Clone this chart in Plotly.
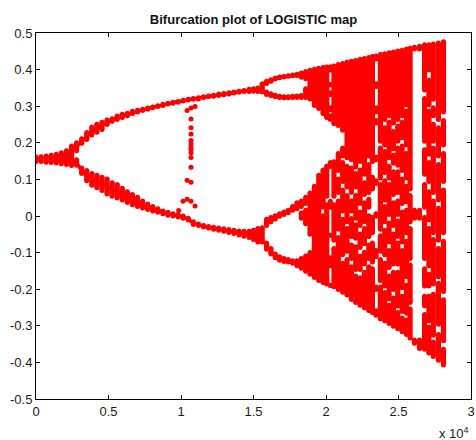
import plotly.graph_objects as go

TITLE = "Bifurcation plot of LOGISTIC map"
X_TICKS = [0, 5000, 10000, 15000, 20000, 25000, 30000]
X_LABELS = ["0", "0.5", "1", "1.5", "2", "2.5", "3"]
Y_TICKS = [0.5, 0.4, 0.3, 0.2, 0.1, 0, -0.1, -0.2, -0.3, -0.4, -0.5]
Y_LABELS = ["0.5", "0.4", "0.3", "0.2", "0.1", "0", "-0.1", "-0.2", "-0.3", "-0.4", "-0.5"]

# Occupied y-ranges of the attractor, one row per parameter value (x in units of 10^4)
col_x = [
 0.00,0.035,0.07,0.105,0.14,0.175,0.21,0.245,0.28,0.315,0.35,0.385,0.42,0.455,0.49,0.525,0.56,0.595,0.63,0.665,
 0.70,0.735,0.77,0.805,0.84,0.875,0.91,0.945,0.98,1.015,1.05,1.085,1.12,1.155,1.19,1.225,1.26,1.295,1.33,1.365,
 1.40,1.435,1.47,1.50,1.53,1.56,1.59,1.62,1.65,1.68,1.71,1.74,1.77,1.80,1.83,1.86,1.89,1.92,1.95,1.98,
 2.005,2.03,2.055,2.085,2.115,2.145,2.175,2.205,2.235,2.265,2.295,2.32,2.345,2.375,2.405,2.435,2.465,2.495,2.525,2.555,
 2.58,2.61,2.645,2.68,2.71,2.74,2.775,2.81]
col_spans = [
 [(.165,.145)],[(.166,.145)],[(.168,.143)],[(.170,.142)],[(.173,.141)],[(.177,.139)],[(.182,.137)],[(.195,.134)],
 [(.204,.174),(.158,.135)],[(.215,.195),(.135,.112)],[(.232,.205),(.128,.092)],[(.247,.217),(.12,.08)],
 [(.255,.225),(.115,.073)],[(.26,.232),(.11,.066)],[(.266,.246),(.105,.056)],[(.27,.255),(.095,.05)],
 [(.277,.26),(.09,.045)],[(.282,.265),(.08,.04)],[(.285,.27),(.07,.033)],[(.29,.276),(.063,.027)],
 [(.293,.28),(.055,.022)],[(.296,.284),(.045,.018)],[(.299,.288),(.037,.014)],[(.302,.292),(.03,.01)],
 [(.305,.295),(.024,.006)],[(.309,.298),(.018,.002)],[(.312,.302),(.014,-.002)],[(.315,.304),(.010,-.004)],
 [(.317,.307),(.008,-.007)],[(.32,.31),(.004,-.010)],[(.323,.313),(-.002,-.015)],[(.325,.315),(-.012,-.027)],
 [(.327,.316),(-.018,-.03)],[(.330,.32),(-.022,-.034)],[(.332,.322),(-.025,-.037)],[(.334,.323),(-.027,-.04)],
 [(.337,.325),(-.029,-.043)],[(.339,.327),(-.031,-.046)],[(.341,.329),(-.033,-.049)],[(.343,.332),(-.035,-.052)],
 [(.345,.334),(-.037,-.056)],[(.347,.336),(-.038,-.059)],[(.350,.336),(-.038,-.063)],[(.352,.337),(-.035,-.068)],
 [(.354,.336),(-.03,-.075)],[(.365,.335),(-.028,-.075)],
 [(.372,.358),(.343,.328),(-.005,-.03),(-.07,-.095)],
 [(.376,.364),(.338,.325),(.0,-.02),(-.085,-.108)],
 [(.381,.370),(.334,.322),(.005,-.012),(-.10,-.118)],
 [(.384,.374),(.331,.320),(.010,-.005),(-.107,-.125)],
 [(.385,.376),(.330,.319),(.015,.0),(-.112,-.128)],
 [(.387,.378),(.330,.319),(.020,.005),(-.115,-.13)],
 [(.389,.379),(.331,.320),(.03,.012),(-.118,-.133)],
 [(.391,.380),(.332,.320),(.04,.016),(-.118,-.14)],
 [(.395,.375),(.333,.320),(.045,.022),(.012,-.01),(-.112,-.147)],
 [(.399,.371),(.352,.320),(.055,.03),(.02,-.025),(-.105,-.155)],
 [(.402,.316),(.067,-.054),(-.096,-.163)],
 [(.405,.298),(.085,-.172)],
 [(.408,.29),(.115,-.18)],
 [(.410,.276),(.13,.02),(.005,-.186)],
 [(.411,.265),(.14,.05),(.035,-.19)],
 [(.412,.395),(.363,.354),(.341,.327),(.30,.286),(.277,.26),(.15,.131),(.044,.02),(-.05,-.055),(-.11,-.14),(-.185,-.194)],
 [(.414,.248),(.152,.05),(.035,-.07),(-.085,-.197)],
 [(.418,.243),(.175,.12),(.105,.06),(.045,-.04),(-.055,-.205)],
 [(.421,.23),(.19,.16),(.15,.09),(.075,.01),(-.005,-.11),(-.125,-.212)],
 [(.424,.155),(.14,.075),(.06,-.02),(-.03,-.10),(-.115,-.22)],
 [(.427,.15),(.135,.06),(.045,.01),(-.003,-.06),(-.075,-.12),(-.135,-.232)],
 [(.429,.13),(.12,.075),(.06,-.01),(-.02,-.065),(-.08,-.15),(-.16,-.24)],
 [(.432,.145),(.13,.03),(.015,-.03),(-.045,-.09),(-.105,-.15),(-.165,-.248)],
 [(.434,.11),(.095,.055),(.04,-.02),(-.03,-.08),(-.095,-.135),(-.15,-.255)],
 [(.437,.16),(.145,.06),(.05,.02),(.005,-.06),(-.075,-.12),(-.135,-.262)],
 [(.44,.145),(.11,.07),(.0,-.05),(-.07,-.13),(-.14,-.268)],
 [(.441,.425),(.365,.35),(.30,.28),(.265,.25),(.165,.15),(.10,.085),(.01,-.005),(-.09,-.115),(-.19,-.205),(-.255,-.275)],
 [(.445,.2),(.19,.10),(.09,-.04),(-.05,-.10),(-.115,-.18),(-.19,-.285)],
 [(.447,.26),(.245,.19),(.18,.115),(.10,.04),(.03,-.02),(-.035,-.11),(-.125,-.195),(-.205,-.29)],
 [(.45,.27),(.26,.155),(.14,.10),(.09,.0),(-.015,-.075),(-.09,-.145),(-.16,-.23),(-.24,-.298)],
 [(.452,.25),(.235,.18),(.17,.14),(.125,.055),(.04,-.03),(-.045,-.135),(-.15,-.205),(-.22,-.305)],
 [(.455,.26),(.25,.20),(.19,.135),(.125,.06),(.045,.0),(-.01,-.06),(-.07,-.135),(-.15,-.25),(-.26,-.312)],
 [(.457,.27),(.26,.21),(.195,.12),(.105,.03),(.015,-.075),(-.09,-.20),(-.215,-.265),(-.275,-.32)],
 [(.46,.30),(.29,.19),(.175,.10),(.085,.035),(.02,-.05),(-.065,-.17),(-.185,-.27),(-.28,-.328)],
 [(.462,.07),(.06,-.02),(-.03,-.12),(-.13,-.24),(-.25,-.337)],
 [(.465,.452),(.02,-.01),(-.335,-.352)],
 [(.468,.452),(.02,-.01),(-.335,-.366)],
 [(.472,.34),(.325,.2),(.185,.11),(.09,.02),(.0,-.12),(-.14,-.195),(-.215,-.25),(-.265,-.368)],
 [(.472,.395),(.375,.30),(.29,.165),(.15,.09),(.07,-.015),(-.03,-.14),(-.155,-.195),(-.215,-.29),(-.30,-.378)],
 [(.474,.315),(.30,.27),(.255,.20),(.19,.06),(.045,-.05),(-.06,-.19),(-.21,-.33),(-.34,-.388)],
 [(.477,.26),(.245,.16),(.145,.04),(.025,-.07),(-.085,-.17),(-.18,-.30),(-.32,-.398)],
 [(.48,.28),(.265,.19),(.175,.09),(.075,-.05),(-.065,-.21),(-.225,-.345),(-.36,-.411)],
]

# The isolated dots of the window near x = 1.07
iso_x = [.984,1.014,1.042,1.069,1.097,1.042,1.069,1.069,1.069,1.069,1.069,1.069,1.069,1.069,1.069,1.069,1.069,1.042,1.069,1.097]
iso_y = [.015,.040,.046,.040,.027,.098,.092,.133,.160,.173,.181,.187,.197,.206,.224,.241,.265,.288,.295,.299]

X_UNIT = 10000
RED = "#ff0000"
DOT = 5
INSET = 0.004   # a little under half a dot in y units: span edges are outer edges of the dots
FONT = "Liberation Sans, Arial, sans-serif"

xs, ys = [], []
for x, spans in zip(col_x, col_spans):
    for hi, lo in spans:
        a, b = hi - INSET, lo + INSET
        if a < b:
            a = b = (hi + lo) / 2
        xs += [x * X_UNIT, x * X_UNIT, None]
        ys += [a, b, None]

# Thin branches: the same rows joined along each branch so that it reads as a continuous band
bx, by = [], []
for lo_x, hi_x, n in [(0.28, 1.56, 2), (1.59, 1.80, 4)]:
    rows = [(x, s) for x, s in zip(col_x, col_spans) if lo_x <= x <= hi_x]
    for k in range(n):
        for x, s in rows:
            bx.append(x * X_UNIT)
            by.append((s[k][0] + s[k][1]) / 2)
        bx.append(None)
        by.append(None)

fig = go.Figure()
fig.add_trace(go.Scatter(x=bx, y=by, mode="lines", line=dict(color=RED, width=3.5),
                         hoverinfo="skip", showlegend=False))
fig.add_trace(go.Scatter(x=xs, y=ys, mode="lines+markers",
                         line=dict(color=RED, width=5.2),
                         marker=dict(color=RED, size=DOT, line=dict(width=0)),
                         hoverinfo="skip", showlegend=False))
fig.add_trace(go.Scatter(x=[v * X_UNIT for v in iso_x], y=iso_y, mode="markers",
                         marker=dict(color=RED, size=DOT, line=dict(width=0)),
                         showlegend=False))

axis = dict(showgrid=False, zeroline=False, showline=True, linecolor="#000000", linewidth=1,
            mirror="ticks", ticks="inside", ticklen=4, tickwidth=1, tickcolor="#000000",
            automargin=False,
            tickfont=dict(family=FONT, size=13, color="#1a1a1a"))
fig.update_xaxes(range=[0, 30000], tickmode="array", tickvals=X_TICKS, ticktext=X_LABELS, **axis)
fig.update_yaxes(range=[-0.5, 0.5], tickmode="array", tickvals=Y_TICKS, ticktext=Y_LABELS, **axis)

fig.update_layout(
    width=476, height=440, paper_bgcolor="white", plot_bgcolor="white",
    margin=dict(l=36, r=5, t=33, b=41), autosize=False,
    title=dict(text="<b>" + TITLE + "</b>", x=0.5, xref="paper", xanchor="center",
               y=1, yref="paper", yanchor="bottom", pad=dict(b=9),
               font=dict(family=FONT, size=13, color="#111111")),
    annotations=[dict(text="x 10<sup>4</sup>", x=1, y=0, xref="paper", yref="paper",
                      xanchor="right", yanchor="top", yshift=-24, showarrow=False,
                      font=dict(family=FONT, size=13, color="#1a1a1a"))],
)
fig.write_html("out.html", config={"displayModeBar": False},
               post_script="document.body.style.margin='0';document.body.style.overflow='hidden';")
